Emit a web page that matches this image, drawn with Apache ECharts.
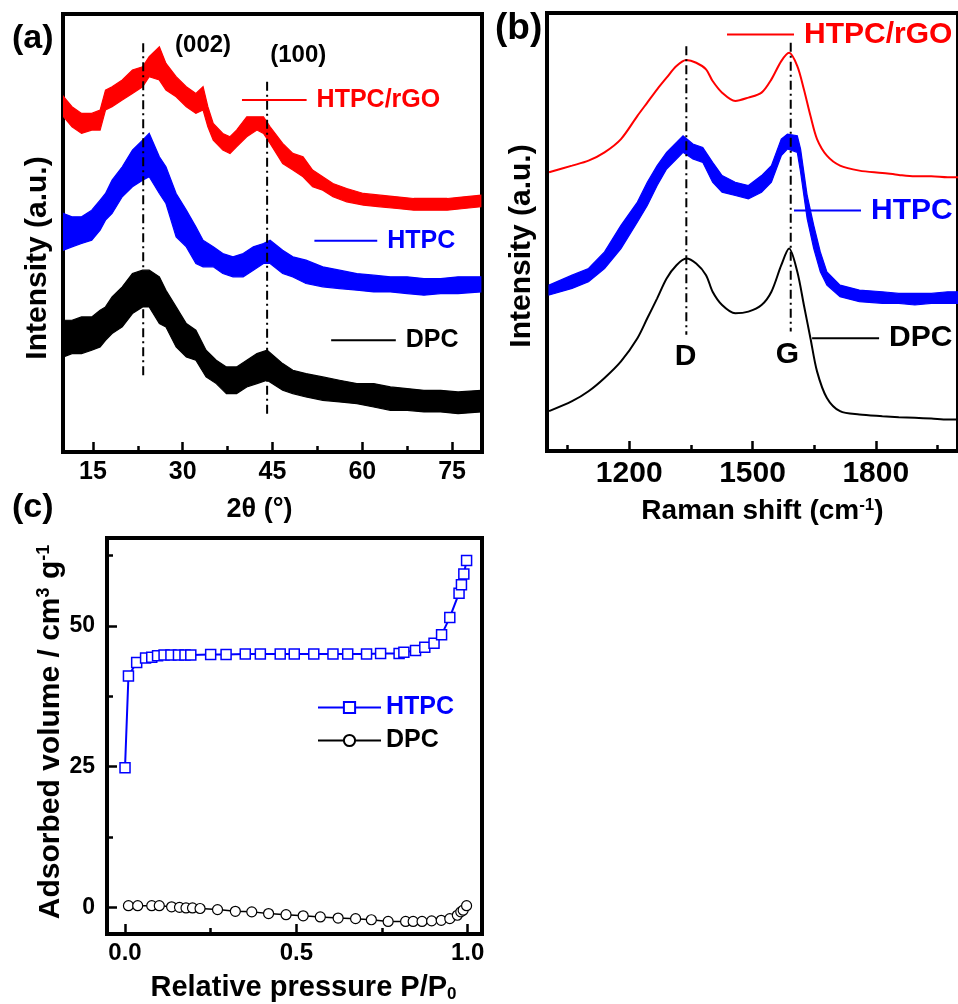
<!DOCTYPE html>
<html><head><meta charset="utf-8">
<script src="https://cdn.jsdelivr.net/npm/echarts@6.0.0/dist/echarts.min.js"></script>
<style>html,body{margin:0;padding:0;background:#fff}#chart{width:958px;height:1004px}</style>
</head><body><div id="chart"></div>
<script>
// ---------- Panel (a): XRD, envelope of each noisy trace [2theta, upper, lower] (a.u.)
const xrdRGO = [[10.1,1065,1005],[11.5,1035,975],[13.1,1015,955],[14.8,1015,965],[16.2,1025,965],[17.1,1085,1025],[18.2,1095,1035],[19.9,1115,1055],[21.6,1145,1075],[23.3,1155,1095],[24.4,1185,1125],[26.1,1215,1115],[27.2,1165,1085],[28.9,1125,1065],[30.6,1095,1035],[32.2,1075,1015],[33.4,1095,1025],[34.2,1035,975],[35.1,985,935],[36.7,955,905],[37.9,945,895],[39.0,965,915],[40.7,1005,945],[42.4,1005,965],[43.5,1005,955],[44.6,975,925],[46.7,925,865],[48.4,895,845],[50.1,885,825],[51.7,845,795],[53.4,825,785],[55.1,805,765],[57.4,790,750],[60.2,775,740],[63.0,770,735],[65.8,765,730],[68.6,760,725],[71.4,760,725],[74.2,760,725],[77.0,765,730],[79.8,770,735]];
const xrdHTPC = [[10.1,715,605],[11.5,705,615],[13.1,705,625],[14.8,725,635],[16.2,755,665],[17.1,775,695],[18.2,815,715],[19.9,855,765],[21.6,905,795],[23.3,935,815],[24.4,955,825],[26.1,885,775],[27.2,855,745],[28.9,775,645],[30.6,725,615],[32.2,675,565],[33.4,635,555],[35.1,615,555],[36.7,595,535],[38.4,585,525],[40.1,595,525],[41.8,615,545],[43.5,625,565],[44.6,635,565],[46.7,605,535],[48.4,585,525],[50.6,575,505],[53.4,555,495],[56.2,545,490],[59.1,535,485],[61.9,530,480],[64.7,525,480],[67.5,525,475],[70.3,520,470],[73.1,520,475],[76.0,525,475],[79.8,525,480]];
const xrdDPC = [[10.1,395,285],[11.5,395,295],[13.1,405,295],[14.8,405,305],[16.2,425,315],[17.1,435,335],[18.2,465,355],[19.9,495,375],[21.6,535,415],[23.3,545,435],[24.4,545,435],[26.1,525,385],[27.2,485,375],[28.9,435,315],[30.6,385,285],[32.2,365,275],[33.9,305,225],[35.6,275,205],[37.3,255,175],[39.0,255,175],[40.7,275,195],[42.4,295,205],[44.1,305,215],[46.7,265,185],[48.4,245,175],[50.6,235,165],[53.4,225,155],[56.2,215,150],[59.1,205,145],[61.9,205,135],[64.7,195,125],[67.5,190,125],[70.3,185,120],[73.1,185,120],[76.0,180,115],[79.8,185,120]];
const xrdTicks = [15, 30, 45, 60, 75];
const xrdMinorTicks = [22.5, 37.5, 52.5, 67.5];
const xrdGuides = [[23.4, 1225, 227], [44.1, 1110, 110]];          // [2theta, top, bottom]
const xrdPlanes = [['(002)', 33.4, 1220], ['(100)', 49.3, 1190]];
const xrdKeys = [['HTPC/rGO', 39.9, 50.7, 1055], ['HTPC', 52.0, 62.5, 633], ['DPC', 54.8, 65.6, 335]];

// ---------- Panel (b): Raman
const ramanShift = [1005,1061,1101,1140,1180,1220,1244,1268,1291,1315,1339,1363,1387,1403,1426,1458,1490,1522,1546,1570,1589,1609,1625,1641,1657,1681,1713,1760,1816,1856,1895,1935,1975,2000];
const ramanRGO   = [840,860,875,900,940,1010,1050,1090,1125,1160,1178,1170,1150,1115,1080,1055,1065,1080,1120,1175,1200,1160,1090,1010,940,890,860,845,838,832,828,828,825,825];
const ramanDPC   = [120,150,180,220,270,340,400,460,520,560,580,565,530,480,440,415,420,440,480,560,610,540,440,340,240,160,120,110,105,102,100,98,95,95];
const ramanHTPC  = [[1005,500,470],[1061,530,490],[1101,550,510],[1140,600,550],[1180,680,610],[1220,750,690],[1244,810,740],[1268,860,800],[1291,900,850],[1315,930,880],[1331,950,900],[1355,925,880],[1379,915,870],[1403,870,810],[1426,830,780],[1458,810,770],[1490,800,760],[1522,830,780],[1546,860,810],[1570,940,890],[1585,955,910],[1609,950,900],[1617,910,840],[1633,770,700],[1649,680,610],[1665,600,540],[1681,540,500],[1713,500,465],[1760,485,450],[1816,480,445],[1856,475,445],[1895,475,440],[1935,475,445],[1975,480,445],[2000,480,445]];
const ramanTicks = [1200, 1500, 1800];
const ramanMinorTicks = [1050, 1350, 1650, 1950];
const ramanGuides = [[1339, 1220, 350], [1593, 1230, 360]];
const ramanBands = [['D', 1337, 285], ['G', 1585, 290]];
const ramanKeys = [['HTPC/rGO', 1438, 1601, 1255], ['HTPC', 1601, 1764, 725], ['DPC', 1645, 1808, 340]];

// ---------- Panel (c): N2 adsorption
const htpcP = [0.0,0.01,0.034,0.06,0.078,0.095,0.114,0.134,0.156,0.175,0.192,0.25,0.295,0.351,0.395,0.453,0.494,0.551,0.607,0.65,0.705,0.746,0.8,0.814,0.848,0.875,0.902,0.924,0.948,0.975,0.982,0.989,0.997];
const htpcV = [24.8,41.1,43.5,44.3,44.4,44.7,44.8,44.8,44.8,44.8,44.8,44.9,44.9,45.0,45.0,45.0,45.0,45.0,45.0,45.0,45.0,45.1,45.1,45.3,45.6,46.2,46.9,48.4,51.5,55.8,57.3,59.2,61.6];
const dpcP = [0.01,0.037,0.078,0.1,0.136,0.159,0.178,0.197,0.219,0.27,0.322,0.37,0.419,0.47,0.52,0.57,0.622,0.673,0.719,0.768,0.819,0.841,0.867,0.895,0.923,0.948,0.97,0.98,0.987,0.997];
const dpcV = [0.3,0.3,0.3,0.3,0.1,0.0,-0.1,-0.1,-0.2,-0.4,-0.7,-0.8,-1.1,-1.3,-1.5,-1.7,-1.9,-2.0,-2.2,-2.5,-2.5,-2.5,-2.5,-2.4,-2.3,-2.0,-1.4,-0.8,-0.5,0.3];
const betXTicks = [0, 0.5, 1.0];
const betXMinor = [0.25, 0.75];
const betYTicks = [0, 25, 50];
const betYMinor = [12.5, 37.5, 62.5];

const FONT = '"Liberation Sans", Arial, Helvetica, sans-serif';
const RED = '#ff0000', BLUE = '#0000ff', BLACK = '#000000';
const DASHDOT = [9, 4, 2, 4];

function band(name, rows, color, xi, yi) {
  return {
    type: 'custom', name: name, xAxisIndex: xi, yAxisIndex: yi, silent: true, clip: true, z: 2,
    data: rows, encode: { x: 0, y: [1, 2] },
    renderItem: function (params, api) {
      if (params.dataIndex !== 0) return null;
      const up = rows.map(r => api.coord([r[0], r[1]]));
      const lo = rows.map(r => api.coord([r[0], r[2]])).reverse();
      return { type: 'polygon', shape: { points: up.concat(lo) },
        style: { fill: color, stroke: color, lineWidth: 1.2 } };
    }
  };
}
function trace(name, xs, ys, color, xi, yi) {
  return { type: 'line', name: name, xAxisIndex: xi, yAxisIndex: yi, symbol: 'none', silent: true, smooth: 0.3,
    data: xs.map((x, i) => [x, ys[i]]), lineStyle: { color: color, width: 2 }, z: 3 };
}
function guides(list, xi, yi) {
  return list.map(g => ({ type: 'line', xAxisIndex: xi, yAxisIndex: yi, symbol: 'none', silent: true, z: 6,
    data: [[g[0], g[1]], [g[0], g[2]]], lineStyle: { color: BLACK, width: 2, type: DASHDOT } }));
}
function keys(list, colors, xi, yi, fs) {
  return list.map((k, i) => ({ type: 'line', xAxisIndex: xi, yAxisIndex: yi, symbol: 'none', silent: true, z: 6,
    data: [[k[1], k[3]], [k[2], k[3]]], lineStyle: { color: colors[i], width: 2 },
    endLabel: { show: true, formatter: k[0], color: colors[i], fontSize: fs, fontWeight: 'bold', fontFamily: FONT, distance: 10 } }));
}
function notes(list, xi, yi, fs) {
  return { type: 'scatter', xAxisIndex: xi, yAxisIndex: yi, symbolSize: 0, silent: true, z: 7,
    itemStyle: { color: BLACK },
    data: list.map(n => ({ name: n[0], value: [n[1], n[2]] })),
    label: { show: true, position: 'inside', formatter: '{b}', color: BLACK, fontSize: fs, fontWeight: 'bold', fontFamily: FONT,
      textBorderWidth: 0, textBorderColor: 'transparent', opacity: 1 } };
}
const plainNum = v => String(v);
const RICH = { sup: { fontSize: 17, fontWeight: 'bold', fontFamily: FONT, verticalAlign: 'top', color: BLACK },
               sub: { fontSize: 17, fontWeight: 'bold', fontFamily: FONT, verticalAlign: 'bottom', color: BLACK, padding: [14, 0, 0, 0] } };
function xAxisMain(gi, min, max, ticks, fs, margin, name, nameGap, nameFs, pad, fmt) {
  return { type: 'value', gridIndex: gi, min: min, max: max, position: 'bottom',
    axisLine: { show: false, onZero: false }, splitLine: { show: false },
    axisTick: { show: true, inside: true, length: 10, customValues: ticks, lineStyle: { color: BLACK, width: 2.5 } },
    axisLabel: { show: true, customValues: ticks, fontSize: fs, fontWeight: 'bold', fontFamily: FONT, color: BLACK, margin: margin, formatter: fmt || plainNum },
    name: name, nameLocation: 'middle', nameGap: nameGap,
    nameTextStyle: { fontSize: nameFs, fontWeight: 'bold', fontFamily: FONT, color: BLACK, padding: pad, rich: RICH } };
}
function xAxisMinor(gi, min, max, ticks) {
  return { type: 'value', gridIndex: gi, min: min, max: max, position: 'bottom',
    axisLine: { show: false, onZero: false }, splitLine: { show: false }, axisLabel: { show: false },
    axisTick: { show: true, inside: true, length: 6, customValues: ticks, lineStyle: { color: BLACK, width: 2.5 } } };
}
function yAxisPlain(gi, min, max, name, gap, pad) {
  return { type: 'value', gridIndex: gi, min: min, max: max, position: 'left',
    axisLine: { show: false, onZero: false }, splitLine: { show: false }, axisTick: { show: false }, axisLabel: { show: false },
    name: name, nameLocation: 'middle', nameGap: gap, nameRotate: 90,
    nameTextStyle: { fontSize: 30, fontWeight: 'bold', fontFamily: FONT, color: BLACK, padding: pad } };
}

const option = {
  animation: false,
  backgroundColor: '#ffffff',
  textStyle: { fontFamily: FONT },
  title: [
    { text: '(a)', left: 7, top: 17, textStyle: { fontSize: 34, fontWeight: 'bold', fontFamily: FONT, color: BLACK } },
    { text: '(b)', left: 490, top: 5, textStyle: { fontSize: 37, fontWeight: 'bold', fontFamily: FONT, color: BLACK } },
    { text: '(c)', left: 7, top: 486, textStyle: { fontSize: 34, fontWeight: 'bold', fontFamily: FONT, color: BLACK } }
  ],
  grid: [
    { left: 63, right: 476, top: 14, bottom: 552, show: true, borderColor: BLACK, borderWidth: 4, backgroundColor: 'transparent' },
    { left: 547, right: -9, top: 13, bottom: 553, show: true, borderColor: BLACK, borderWidth: 4, backgroundColor: 'transparent' },
    { left: 107, right: 476, top: 538, bottom: 69, show: true, borderColor: BLACK, borderWidth: 4, backgroundColor: 'transparent' }
  ],
  legend: {
    orient: 'vertical', left: 312, top: 690, itemWidth: 63, itemHeight: 14, itemGap: 8,
    textStyle: { fontSize: 25, fontWeight: 'bold', fontFamily: FONT },
    selectedMode: false,
    data: [{ name: 'HTPC', textStyle: { color: BLUE } }, { name: 'DPC', textStyle: { color: BLACK } }]
  },
  xAxis: [
    xAxisMain(0, 10, 80, xrdTicks, 25, 8, '2θ (°)', 44, 27, [0, 26, 0, 0]),
    xAxisMinor(0, 10, 80, xrdMinorTicks),
    xAxisMain(1, 1000, 2000, ramanTicks, 30, 8, 'Raman shift (cm{sup|-1})', 46, 28, [0, 0, 0, 20]),
    xAxisMinor(1, 1000, 2000, ramanMinorTicks),
    xAxisMain(2, -0.0526, 1.042, betXTicks, 24, 7, 'Relative pressure P/P{sub|0}', 38, 29, [0, 0, 0, 18], v => v.toFixed(1)),
    xAxisMinor(2, -0.0526, 1.042, betXMinor)
  ],
  yAxis: [
    yAxisPlain(0, 0, 1313, 'Intensity (a.u.)', 10, [0, 50, 0, 0]),
    yAxisPlain(1, 0, 1320, 'Intensity (a.u.)', 10, [0, 28, 0, 0]),
    { type: 'value', gridIndex: 2, min: -4.73, max: 65.6, position: 'left',
      axisLine: { show: false, onZero: false }, splitLine: { show: false },
      axisTick: { show: true, inside: true, length: 10, customValues: betYTicks, lineStyle: { color: BLACK, width: 2.5 } },
      axisLabel: { show: true, customValues: betYTicks, fontSize: 23, fontWeight: 'bold', fontFamily: FONT, color: BLACK, margin: 12 },
      name: 'Adsorbed volume / cm{sup|3} g{sup|-1}', nameLocation: 'middle', nameGap: 36, nameRotate: 90,
      nameTextStyle: { fontSize: 30, fontWeight: 'bold', fontFamily: FONT, color: BLACK, padding: [0, 0, 0, 8],
        rich: { sup: { fontSize: 18, fontWeight: 'bold', fontFamily: FONT, verticalAlign: 'top', color: BLACK } } } },
    { type: 'value', gridIndex: 2, min: -4.73, max: 65.6, position: 'left',
      axisLine: { show: false, onZero: false }, splitLine: { show: false }, axisLabel: { show: false },
      axisTick: { show: true, inside: true, length: 6, customValues: betYMinor, lineStyle: { color: BLACK, width: 2.5 } } }
  ],
  series: [].concat(
    [ band('HTPC/rGO XRD', xrdRGO, RED, 0, 0), band('HTPC XRD', xrdHTPC, BLUE, 0, 0), band('DPC XRD', xrdDPC, BLACK, 0, 0) ],
    guides(xrdGuides, 0, 0),
    keys(xrdKeys, [RED, BLUE, BLACK], 0, 0, 25),
    [ notes(xrdPlanes, 0, 0, 24) ],
    [ trace('HTPC/rGO Raman', ramanShift, ramanRGO, RED, 2, 1),
      band('HTPC Raman', ramanHTPC, BLUE, 2, 1),
      trace('DPC Raman', ramanShift, ramanDPC, BLACK, 2, 1) ],
    guides(ramanGuides, 2, 1),
    keys(ramanKeys, [RED, BLUE, BLACK], 2, 1, 30),
    [ notes(ramanBands, 2, 1, 30) ],
    [ { type: 'line', name: 'HTPC', xAxisIndex: 4, yAxisIndex: 2, symbol: 'rect', symbolSize: 10, z: 4,
        data: htpcP.map((p, i) => [p, htpcV[i]]),
        lineStyle: { color: BLUE, width: 2 }, itemStyle: { color: '#ffffff', borderColor: BLUE, borderWidth: 1.5 } },
      { type: 'line', name: 'DPC', xAxisIndex: 4, yAxisIndex: 2, symbol: 'circle', symbolSize: 10, z: 4,
        data: dpcP.map((p, i) => [p, dpcV[i]]),
        lineStyle: { color: BLACK, width: 1.5 }, itemStyle: { color: '#ffffff', borderColor: BLACK, borderWidth: 1.2 } } ]
  )
};

const chart = echarts.init(document.getElementById('chart'), null, { renderer: 'canvas', width: 958, height: 1004 });
chart.setOption(option);
</script></body></html>
